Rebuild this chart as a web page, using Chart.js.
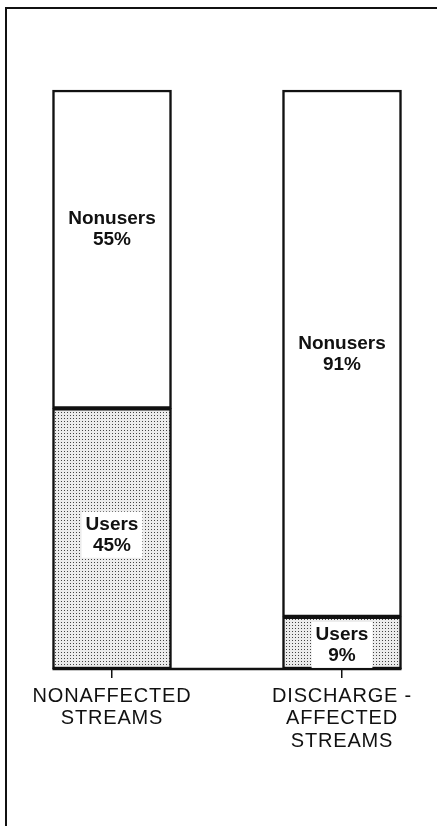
<!DOCTYPE html>
<html>
<head>
<meta charset="utf-8">
<script src="https://cdn.jsdelivr.net/npm/chart.js@4/dist/chart.umd.min.js"></script>
<style>
  html, body { margin: 0; padding: 0; background: #fff; }
  #wrap { position: relative; width: 437px; height: 826px; }
  #frame { position: absolute; left: 5px; top: 7px; right: 0; bottom: 0;
           border-left: 2px solid #111; border-top: 2px solid #111; pointer-events: none; }
</style>
</head>
<body>
<div id="wrap">
  <canvas id="streamChart" width="437" height="826"></canvas>
  <div id="frame"></div>
</div>
<script>
// data
var categories = [['NONAFFECTED', 'STREAMS'], ['DISCHARGE -', 'AFFECTED', 'STREAMS']];
var segmentNames = ['Users', 'Nonusers'];
var usersPct = [45, 9];
var nonusersPct = [55, 91];

// stipple fill for the "users" part
function stipple() {
    var c = document.createElement('canvas');
    c.width = 3; c.height = 3;
    var g = c.getContext('2d');
    g.fillStyle = '#ececec';
    g.fillRect(0, 0, 3, 3);
    g.fillStyle = '#444';
    g.fillRect(1, 1, 1, 1);
    return g.createPattern(c, 'repeat');
}
var ctx = document.getElementById('streamChart').getContext('2d');
var dots = stipple();

var LABEL_FONT = 'bold 19px "Liberation Sans", Arial, sans-serif';

// a little letter spacing for the axis text, like the lettering on the original
var spacing = {
    id: 'spacing',
    beforeDraw: function (chart) { chart.ctx.letterSpacing = '0.8px'; },
    afterDraw: function (chart) { chart.ctx.letterSpacing = '0px'; }
};

// baseline under both bars + the text inside each segment
var barExtras = {
    id: 'barExtras',
    afterDatasetsDraw: function (chart, args, opts) {
        var c = chart.ctx;
        var yScale = chart.scales.y;
        var m0 = chart.getDatasetMeta(0);
        var first = m0.data[0], last = m0.data[m0.data.length - 1];
        var y0 = yScale.getPixelForValue(0);
        c.save();
        c.letterSpacing = '0px';
        c.strokeStyle = '#111';
        c.lineWidth = 2.5;
        c.beginPath();
        c.moveTo(first.x - first.width / 2, y0);
        c.lineTo(last.x + last.width / 2, y0);
        c.stroke();

        c.font = LABEL_FONT;
        c.textAlign = 'center';
        c.textBaseline = 'middle';
        chart.data.datasets.forEach(function (ds, di) {
            var meta = chart.getDatasetMeta(di);
            meta.data.forEach(function (bar, i) {
                var mid = (bar.y + bar.base) / 2 + (opts.shift[di][i] || 0);
                var l1 = segmentNames[di];
                var l2 = ds.data[i] + '%';
                if (di === 0) {
                    var w = Math.max(c.measureText(l1).width, c.measureText(l2).width) + 8;
                    c.fillStyle = '#fff';
                    c.fillRect(bar.x - w / 2, mid - 23, w, 46);
                }
                c.fillStyle = '#111';
                c.fillText(l1, bar.x, mid - 10);
                c.fillText(l2, bar.x, mid + 11);
            });
        });
        c.restore();
    }
};

var streamChart = new Chart(ctx, {
    type: 'bar',
    data: {
        labels: categories,
        datasets: [{
            label: segmentNames[0],
            data: usersPct,
            backgroundColor: dots,
            borderColor: '#111',
            borderWidth: 2.5,
            borderSkipped: false,
            barThickness: 119,
            clip: false
        }, {
            label: segmentNames[1],
            data: nonusersPct,
            backgroundColor: '#fff',
            borderColor: '#111',
            borderWidth: 2.5,
            borderSkipped: false,
            barThickness: 119,
            clip: false
        }]
    },
    options: {
        responsive: false,
        animation: false,
        events: [],
        layout: { padding: { left: 112, right: 95, top: 90, bottom: 0 } },
        plugins: {
            legend: { display: false },
            tooltip: { enabled: false },
            barExtras: { shift: [[-4, 2], [-20, 0]] }
        },
        scales: {
            x: {
                stacked: true,
                offset: false,
                afterFit: function (s) { s.height = 157; },
                border: { display: false },
                grid: { offset: false, drawOnChartArea: false, drawTicks: true, tickLength: 9, color: '#111', lineWidth: 1.5 },
                ticks: {
                    color: '#111',
                    padding: 7,
                    maxRotation: 0,
                    font: { family: '"Liberation Sans", Arial, sans-serif', size: 20, lineHeight: 1.13 }
                }
            },
            y: { stacked: true, display: false, min: 0, max: 100 }
        }
    },
    plugins: [spacing, barExtras]
});
</script>
</body>
</html>
